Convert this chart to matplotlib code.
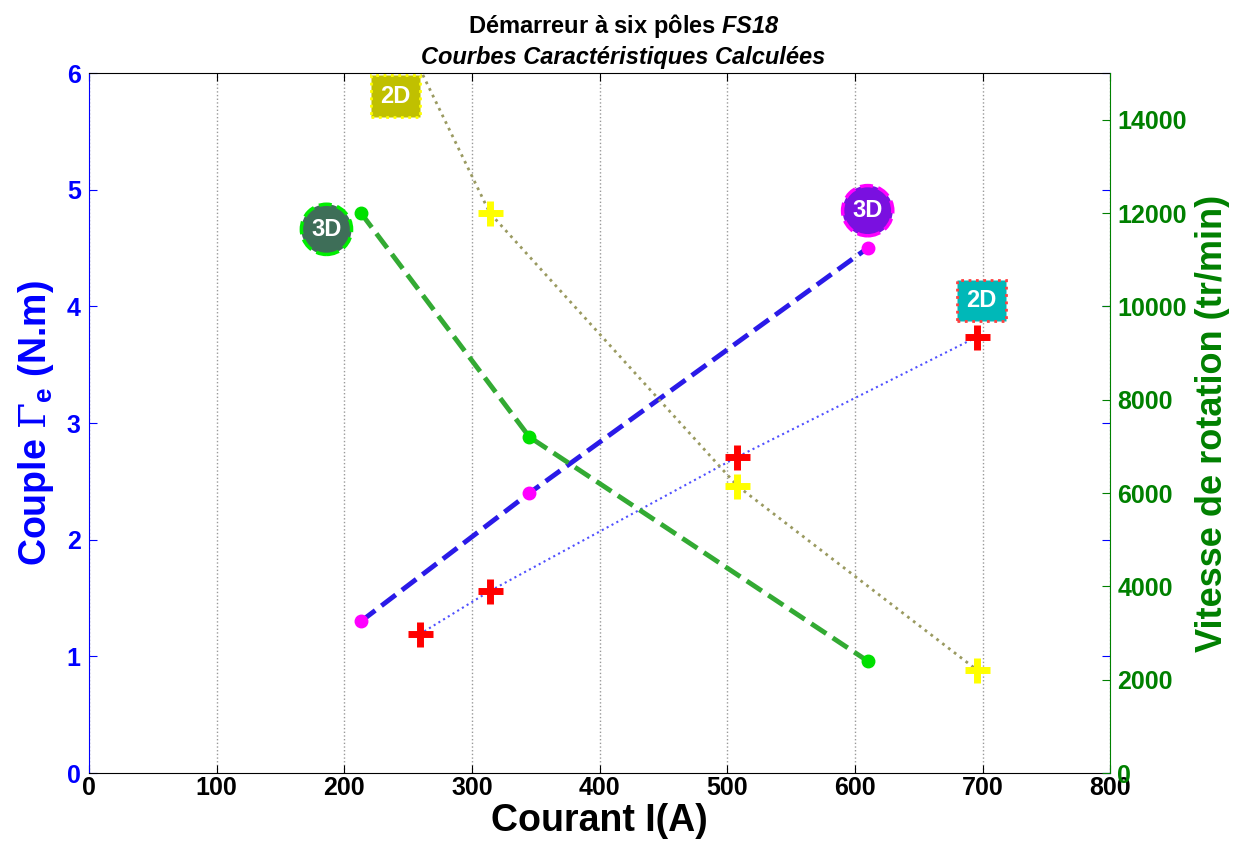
import numpy as np
import matplotlib.pyplot as plt

plt.rcParams['font.family'] = ['Liberation Sans', 'DejaVu Sans']
plt.rcParams['mathtext.fontset'] = 'custom'
plt.rcParams['mathtext.rm'] = 'Liberation Sans:bold:italic'
plt.rcParams['mathtext.it'] = 'Liberation Sans:bold:italic'
plt.rcParams['mathtext.sf'] = 'DejaVu Serif'
plt.rcParams['mathtext.bf'] = 'Liberation Sans:bold'

# courant (A) / couple (N.m) / vitesse (tr/min)
i_3d = [213, 345, 610]
couple_3d = [1.30, 2.40, 4.50]
vitesse_3d = [12000, 7200, 2400]

i_2d = [259, 314, 508, 696]
couple_2d = [1.19, 1.56, 2.71, 3.74]
vitesse_2d = [15100, 12000, 6150, 2200]

xticks = [0, 100, 200, 300, 400, 500, 600, 700, 800]
yticks_l = [0, 1, 2, 3, 4, 5, 6]
yticks_r = [0, 2000, 4000, 6000, 8000, 10000, 12000, 14000]

blue = '#0000FF'
green = '#008000'

fig = plt.figure(figsize=(12.47, 8.44), dpi=100)
ax1 = fig.add_axes([0.0714, 0.0841, 0.8189, 0.8294])
ax2 = ax1.twinx()

# couple
ax1.plot(i_3d, couple_3d, '--', color='#2A1AE8', lw=3.5, zorder=3)
ax1.plot(i_3d, couple_3d, 'o', color='#FF00FF', ms=9, zorder=4)
ax1.plot(i_2d, couple_2d, ':', color='#5050FF', lw=1.5, zorder=3)
ax1.plot(i_2d, couple_2d, '+', color='#FF0000', ms=18, mew=5, zorder=4)

# vitesse
ax2.plot(i_3d, vitesse_3d, '--', color='#33AA33', lw=3.5, zorder=3)
ax2.plot(i_3d, vitesse_3d, 'o', color='#00E000', ms=9, zorder=4)
ax2.plot(i_2d, vitesse_2d, ':', color='#9A9A60', lw=2, zorder=3)
ax2.plot(i_2d, vitesse_2d, '+', color='#FFFF00', ms=18, mew=5,
         markevery=[1, 2, 3], zorder=4)

ax1.set_xlim(0, 800)
ax1.set_ylim(0, 6)
ax2.set_ylim(0, 15000)
ax1.set_xticks(xticks)
ax1.set_yticks(yticks_l)
ax2.set_yticks(yticks_r)

ax1.grid(axis='x', ls=':', color='#999999', lw=1)

ax1.tick_params(axis='x', labelsize=18, direction='in', top=True, length=6,
                colors='black', pad=2)
ax1.tick_params(axis='y', labelsize=18, direction='in', right=True, length=6,
                colors=blue, labelcolor=blue, pad=6)
ax2.tick_params(axis='y', labelsize=18, direction='in', length=6,
                colors=green, labelcolor=green, pad=5)
for lab in ax1.get_xticklabels() + ax1.get_yticklabels() + ax2.get_yticklabels():
    lab.set_fontweight('bold')

ax1.spines['left'].set_color(blue)
ax2.spines['left'].set_visible(False)
ax2.spines['right'].set_color(green)
ax1.spines['right'].set_visible(False)
ax2.spines['top'].set_visible(False)
ax2.spines['bottom'].set_visible(False)

ax1.set_xlabel('Courant I(A)', fontsize=27, fontweight='bold', labelpad=2)
ax1.set_ylabel(r'Couple $\mathsf{\Gamma}_{\mathbf{e}}$ (N.m)', fontsize=27,
               fontweight='bold', color=blue, labelpad=8)
ax2.set_ylabel('Vitesse de rotation (tr/min)', fontsize=26,
               fontweight='bold', color=green, labelpad=6)

fig.text(0.5, 0.953, r'Démarreur à six pôles $\mathit{FS18}$', ha='center',
         va='bottom', fontsize=17, fontweight='bold')
fig.text(0.5, 0.918, 'Courbes Caractéristiques Calculées', ha='center',
         va='bottom', fontsize=17, fontweight='bold', style='italic')

# annotations
ax1.text(240, 5.80, '2D', ha='center', va='center', color='white',
         fontsize=17, fontweight='bold', zorder=6,
         bbox=dict(boxstyle='square,pad=0.4', fc='#C0C000', ec='#FFFF00',
                   ls=':', lw=2))
ax1.text(699, 4.05, '2D', ha='center', va='center', color='white',
         fontsize=17, fontweight='bold', zorder=6,
         bbox=dict(boxstyle='square,pad=0.4', fc='#00B8B8', ec='#FF4040',
                   ls=':', lw=2))
ax1.text(186, 4.66, '3D', ha='center', va='center', color='white',
         fontsize=17, fontweight='bold', zorder=6,
         bbox=dict(boxstyle='circle,pad=0.42', fc='#3E6E58', ec='#00EE00',
                   ls='--', lw=2.5))
ax1.text(610, 4.82, '3D', ha='center', va='center', color='white',
         fontsize=17, fontweight='bold', zorder=6,
         bbox=dict(boxstyle='circle,pad=0.42', fc='#7A10E0', ec='#FF00FF',
                   ls='--', lw=2.5))

fig.savefig('out.png', dpi=100)
